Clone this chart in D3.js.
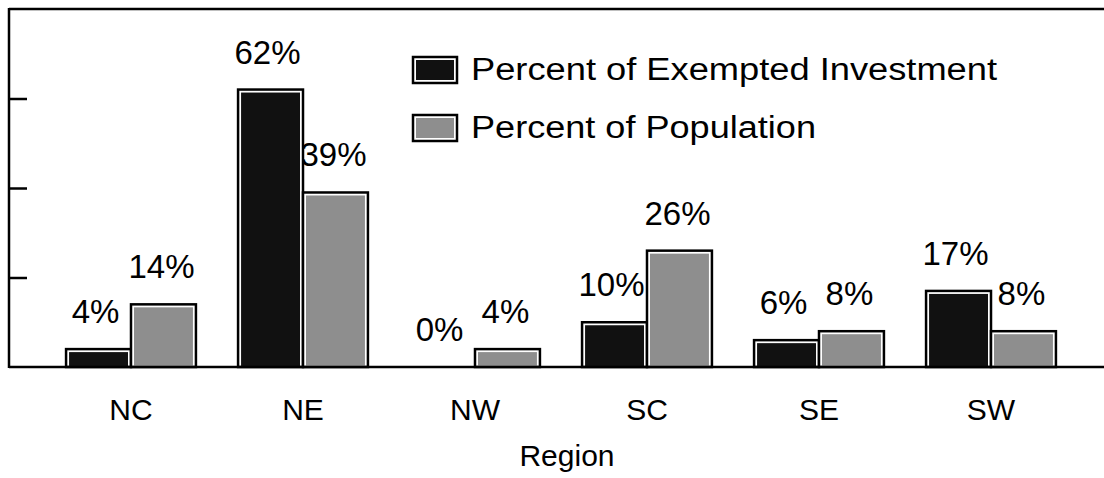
<!DOCTYPE html>
<html><head><meta charset="utf-8">
<script src="https://cdn.jsdelivr.net/npm/d3@7"></script>
<style>body{margin:0;background:#fff}svg{display:block}text{font-family:"Liberation Sans",Arial,sans-serif;fill:#000}</style>
</head><body><svg id="c" width="1104" height="478"></svg>
<script>
const regions = ["NC","NE","NW","SC","SE","SW"];
const exempted = [4,62,0,10,6,17];
const population = [14,39,4,26,8,8];
const seriesNames = ["Percent of Exempted Investment","Percent of Population"];
const yTicks = [20,40,60];
const colors = ["#111111","#8e8e8e"];

const svg = d3.select("#c");
const x0 = d3.scaleBand().domain(regions).range([45,1077]).paddingInner(0.245).paddingOuter(0.1225);
const x1 = d3.scaleBand().domain([0,1]).range([0,x0.bandwidth()]);
const y = d3.scaleLinear().domain([0,80]).range([367,9]);

// frame
svg.append("line").attr("x1",9).attr("x2",1104).attr("y1",9).attr("y2",9).attr("stroke","#000").attr("stroke-width",2.5);
const yAxis = svg.append("g").attr("transform","translate(9,0)")
  .call(d3.axisRight(y).tickValues(yTicks).tickSize(18).tickFormat(""));
yAxis.select(".domain").remove();
yAxis.selectAll("line").attr("stroke","#000").attr("stroke-width",2.5);
svg.append("line").attr("x1",9).attr("x2",9).attr("y1",8).attr("y2",368).attr("stroke","#000").attr("stroke-width",2.5);

const data = regions.map((r,i)=>({r, v:[exempted[i],population[i]]}));

// value labels (drawn under bars)
const lab = svg.append("g");
data.forEach(d=>{
  d.v.forEach((v,k)=>{
    lab.append("text")
      .attr("x", x0(d.r)+x1(k)+x1.bandwidth()/2 - (k===0?3:2))
      .attr("y", y(v)-26)
      .attr("text-anchor","middle")
      .attr("font-size",33)
      .text(v+"%");
  });
});

// bars
const bars = svg.append("g");
data.forEach(d=>{
  d.v.forEach((v,k)=>{
    const bx = x0(d.r)+x1(k), bw = x1.bandwidth(), by = y(v), bh = y(0)-y(v);
    bars.append("rect").attr("x",bx).attr("y",by).attr("width",bw).attr("height",bh)
      .attr("fill","#fff").attr("stroke","#000").attr("stroke-width",2.5);
    if (bh>4) bars.append("rect").attr("x",bx+3).attr("y",by+3).attr("width",bw-6).attr("height",bh-3)
      .attr("fill",colors[k]);
  });
});

// baseline
svg.append("line").attr("x1",9).attr("x2",1104).attr("y1",367).attr("y2",367).attr("stroke","#000").attr("stroke-width",2.5);

// category labels
const xAxis = svg.append("g").attr("transform","translate(0,367)")
  .call(d3.axisBottom(x0).tickSize(0).tickPadding(0));
xAxis.select(".domain").remove();
xAxis.attr("font-size",30).attr("font-family","Liberation Sans, Arial, sans-serif");
xAxis.selectAll("text").attr("y",53).attr("dy",null).attr("font-size",30);

svg.append("text").attr("x",567).attr("y",466).attr("text-anchor","middle").attr("font-size",30).text("Region");

// legend
const lg = svg.append("g");
const lw = [526,345];
seriesNames.forEach((n,k)=>{
  const ty = 57 + k*58;
  lg.append("rect").attr("x",413).attr("y",ty).attr("width",44).attr("height",26)
    .attr("fill","#fff").attr("stroke","#000").attr("stroke-width",2.5);
  lg.append("rect").attr("x",416).attr("y",ty+3).attr("width",38).attr("height",20).attr("fill",colors[k]);
  lg.append("text").attr("x",471).attr("y",ty+23).attr("font-size",31)
    .attr("textLength",lw[k]).attr("lengthAdjust","spacingAndGlyphs").text(n);
});
</script></body></html>
